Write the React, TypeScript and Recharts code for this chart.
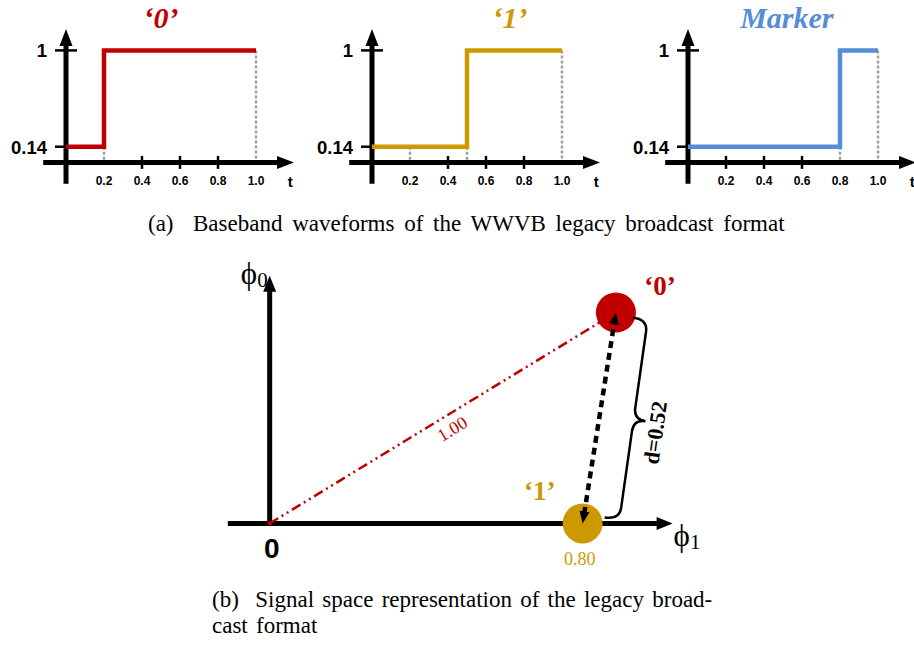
import React from 'react';
import {
  LineChart,
  Line,
  ScatterChart,
  Scatter,
  XAxis,
  YAxis,
  ReferenceLine,
  ReferenceDot,
} from 'recharts';

// waveform levels and switching times (t in seconds, normalised)
const levels = [0.14, 1, 1];
const zeroTimes = [0, 0.2, 1.0];
const oneTimes = [0, 0.5, 1.0];
const markerTimes = [0, 0.8, 1.0];
const timeTicks = [0.2, 0.4, 0.6, 0.8, 1.0];
const levelTicks = [0.14, 1];
const zeroGuides = [0.2, 1.0];
const oneGuides = [0.2, 0.5, 1.0];
const markerGuides = [0.8, 1.0];

// signal space
const symbolNames = ['‘0’', '‘1’'];
const phi1Values = [0.885, 0.8];
const phi0Values = [0.54, 0];
const energyLabel = '1.00';
const distanceLabel = 'd=0.52';
const oneCoordLabel = '0.80';

const RED = '#C00000';
const GOLD = '#CC9900';
const BLUE = '#558ED5';
const GREY = '#A0A0A0';
const SANS = "Arial, 'Liberation Sans', Helvetica, sans-serif";
const SERIF = "'Times New Roman', 'Liberation Serif', Times, serif";

const arrowShape =
  (color: string, width: number, head: number, headW: number, dash?: string, both = false) =>
  (p: any) => {
    const { x1, y1, x2, y2 } = p;
    const len = Math.hypot(x2 - x1, y2 - y1) || 1;
    const ux = (x2 - x1) / len;
    const uy = (y2 - y1) / len;
    const nx = -uy;
    const ny = ux;
    const tri = (tx: number, ty: number, dx: number, dy: number) =>
      `${tx},${ty} ${tx - dx * head + (nx * headW) / 2},${ty - dy * head + (ny * headW) / 2} ${
        tx - dx * head - (nx * headW) / 2
      },${ty - dy * head - (ny * headW) / 2}`;
    const sx = both ? x1 + ux * head * 0.8 : x1;
    const sy = both ? y1 + uy * head * 0.8 : y1;
    return (
      <g>
        <line
          x1={sx}
          y1={sy}
          x2={x2 - ux * head * 0.8}
          y2={y2 - uy * head * 0.8}
          stroke={color}
          strokeWidth={width}
          strokeDasharray={dash}
        />
        <polygon points={tri(x2, y2, ux, uy)} fill={color} />
        {both && <polygon points={tri(x1, y1, -ux, -uy)} fill={color} />}
      </g>
    );
  };

const textShape =
  (text: React.ReactNode, dx: number, dy: number, style: React.SVGProps<SVGTextElement>) =>
  (p: any) => (
    <text x={p.cx + dx} y={p.cy + dy} {...style}>
      {text}
    </text>
  );

const levelAt = (times: number[], g: number) => {
  let v = levels[0];
  times.forEach((t, i) => {
    if (t < g) v = levels[i];
  });
  return v;
};

type WaveProps = {
  left: number;
  times: number[];
  guides: number[];
  color: string;
  title: string;
  titleT: number;
};

const WavePanel: React.FC<WaveProps> = ({ left, times, guides, color, title, titleT }) => {
  const data = times.map((t, i) => ({ t, v: levels[i] }));
  return (
    <div style={{ position: 'absolute', left, top: 0 }}>
      <LineChart
        width={304}
        height={196}
        data={data}
        margin={{ top: 0, right: 0, bottom: 0, left: 0 }}
        style={{ overflow: 'visible' }}
      >
        <XAxis type="number" dataKey="t" domain={[-0.3, 1.3]} hide />
        <YAxis type="number" domain={[-0.3, 1.45]} hide />
        {guides.map((g) => (
          <ReferenceLine
            key={'g' + g}
            ifOverflow="visible"
            segment={[
              { x: g, y: levelAt(times, g) },
              { x: g, y: 0 },
            ]}
            stroke={GREY}
            strokeWidth={2.5}
            strokeDasharray="3 2"
          />
        ))}
        {timeTicks
          .filter((t) => !guides.includes(t))
          .map((t) => (
            <ReferenceLine
              key={'xt' + t}
              ifOverflow="visible"
              segment={[
                { x: t, y: -0.058 },
                { x: t, y: 0.058 },
              ]}
              stroke="#000"
              strokeWidth={2.5}
            />
          ))}
        {levelTicks.map((v) => (
          <ReferenceLine
            key={'yt' + v}
            ifOverflow="visible"
            segment={[
              { x: -0.058, y: v },
              { x: 0.058, y: v },
            ]}
            stroke="#000"
            strokeWidth={2.5}
          />
        ))}
        <ReferenceLine
          ifOverflow="visible"
          segment={[
            { x: -0.12, y: 0 },
            { x: 1.2, y: 0 },
          ]}
          shape={arrowShape('#000', 5, 17, 13)}
        />
        <ReferenceLine
          ifOverflow="visible"
          segment={[
            { x: 0, y: -0.19 },
            { x: 0, y: 1.19 },
          ]}
          shape={arrowShape('#000', 5, 17, 13)}
        />
        <Line
          type="stepAfter"
          dataKey="v"
          stroke={color}
          strokeWidth={4.5}
          dot={false}
          isAnimationActive={false}
        />
        {timeTicks.map((t) => (
          <ReferenceDot
            key={'xl' + t}
            x={t}
            y={0}
            ifOverflow="visible"
            shape={textShape(t.toFixed(1), 0, 23, {
              textAnchor: 'middle',
              fontFamily: SANS,
              fontWeight: 'bold',
              fontSize: 12,
              fill: '#000',
            })}
          />
        ))}
        {levelTicks.map((v) => (
          <ReferenceDot
            key={'yl' + v}
            x={0}
            y={v}
            ifOverflow="visible"
            shape={textShape(String(v), -19, 7, {
              textAnchor: 'end',
              fontFamily: SANS,
              fontWeight: 'bold',
              fontSize: 18.5,
              fill: '#000',
            })}
          />
        ))}
        <ReferenceDot
          x={1.18}
          y={0}
          ifOverflow="visible"
          shape={textShape('t', 0, 25, {
            textAnchor: 'middle',
            fontFamily: SANS,
            fontWeight: 'bold',
            fontSize: 15,
            fill: '#000',
          })}
        />
        <ReferenceDot
          x={titleT}
          y={1}
          ifOverflow="visible"
          shape={textShape(title, 0, -22, {
            textAnchor: 'middle',
            fontFamily: SERIF,
            fontWeight: 'bold',
            fontStyle: 'italic',
            fontSize: 30,
            fill: color,
          })}
        />
      </LineChart>
    </div>
  );
};

const energyShape = (p: any) => {
  const { x1, y1, x2, y2 } = p;
  const len = Math.hypot(x2 - x1, y2 - y1) || 1;
  const ux = (x2 - x1) / len;
  const uy = (y2 - y1) / len;
  const ang = (Math.atan2(uy, ux) * 180) / Math.PI;
  const cx = x1 + ux * len * 0.506 - uy * 14;
  const cy = y1 + uy * len * 0.506 + ux * 14;
  return (
    <g>
      <line x1={x1} y1={y1} x2={x2} y2={y2} stroke={RED} strokeWidth={2.5} strokeDasharray="10 4 2 4 2 4" />
      <circle cx={x1} cy={y1} r={2} fill={RED} />
      <text
        x={cx}
        y={cy}
        dy="0.35em"
        transform={`rotate(${ang} ${cx} ${cy})`}
        textAnchor="middle"
        fontFamily={SERIF}
        fontSize={18}
        fill={RED}
      >
        {energyLabel}
      </text>
    </g>
  );
};

const braceShape = (p: any) => {
  const s = { x: p.x1 + 17, y: p.y1 + 5 };
  const e = { x: p.x2 + 22, y: p.y2 - 6 };
  const L = Math.hypot(e.x - s.x, e.y - s.y) || 1;
  const ux = (e.x - s.x) / L;
  const uy = (e.y - s.y) / L;
  const nx = uy;
  const ny = -ux;
  const P = (u: number, v: number) => `${s.x + ux * u + nx * v},${s.y + uy * u + ny * v}`;
  const w = 15;
  const a = 12;
  const tip = 12;
  const d = [
    `M ${P(0, 0)}`,
    `Q ${P(0, w)} ${P(a, w)}`,
    `L ${P(L / 2 - a, w)}`,
    `Q ${P(L / 2, w)} ${P(L / 2, w + tip)}`,
    `Q ${P(L / 2, w)} ${P(L / 2 + a, w)}`,
    `L ${P(L - a, w)}`,
    `Q ${P(L, w)} ${P(L, 0)}`,
  ].join(' ');
  const tx = s.x + ux * (L / 2 + 10) + nx * 38;
  const ty = s.y + uy * (L / 2 + 10) + ny * 38;
  const ang = (Math.atan2(uy, ux) * 180) / Math.PI - 180;
  return (
    <g>
      <path d={d} fill="none" stroke="#000" strokeWidth={2.5} />
      <text
        x={tx}
        y={ty}
        dy="0.35em"
        transform={`rotate(${ang} ${tx} ${ty})`}
        textAnchor="middle"
        fontFamily={SERIF}
        fontWeight="bold"
        fontSize={22}
        fill="#000"
      >
        {distanceLabel}
      </text>
    </g>
  );
};

const phiLabel = (sub: string) => (
  <>
    <tspan fontSize={31}>ϕ</tspan>
    <tspan fontSize={21} dy={3}>
      {sub}
    </tspan>
  </>
);

const SignalSpace: React.FC = () => {
  const points = symbolNames.map((name, i) => ({ name, phi1: phi1Values[i], phi0: phi0Values[i] }));
  const [p0, p1] = points;
  const colors = [RED, GOLD];
  return (
    <div style={{ position: 'absolute', left: 211, top: 250 }}>
      <ScatterChart width={489} height={332} margin={{ top: 0, right: 0, bottom: 0, left: 0 }}>
        <XAxis type="number" dataKey="phi1" domain={[-0.15, 1.1]} hide />
        <YAxis type="number" dataKey="phi0" domain={[-0.15, 0.7]} hide />
        <ReferenceLine
          ifOverflow="visible"
          segment={[
            { x: -0.107, y: 0 },
            { x: 1.03, y: 0 },
          ]}
          shape={arrowShape('#000', 5, 16, 13)}
        />
        <ReferenceLine
          ifOverflow="visible"
          segment={[
            { x: 0, y: 0 },
            { x: 0, y: 0.634 },
          ]}
          shape={arrowShape('#000', 5, 16, 13)}
        />
        <ReferenceLine
          ifOverflow="visible"
          segment={[
            { x: 0, y: 0 },
            { x: p0.phi1, y: p0.phi0 },
          ]}
          shape={energyShape}
        />
        {points.map((pt, i) => (
          <Scatter
            key={pt.name}
            data={[pt]}
            fill={colors[i]}
            isAnimationActive={false}
            shape={(s: any) => <circle cx={s.cx} cy={s.cy} r={20} fill={colors[i]} />}
          />
        ))}
        <ReferenceLine
          ifOverflow="visible"
          zIndex={700}
          segment={[
            { x: p1.phi1, y: p1.phi0 },
            { x: p0.phi1, y: p0.phi0 },
          ]}
          shape={arrowShape('#000', 4.5, 12, 10, '7 5', true)}
        />
        <ReferenceLine
          ifOverflow="visible"
          zIndex={700}
          segment={[
            { x: p0.phi1, y: p0.phi0 },
            { x: p1.phi1, y: p1.phi0 },
          ]}
          shape={braceShape}
        />
        <ReferenceDot
          x={p0.phi1}
          y={p0.phi0}
          ifOverflow="visible"
          zIndex={700}
          shape={textShape(p0.name, 44, -17, {
            textAnchor: 'middle',
            fontFamily: SERIF,
            fontWeight: 'bold',
            fontSize: 27,
            fill: RED,
          })}
        />
        <ReferenceDot
          x={p1.phi1}
          y={p1.phi0}
          ifOverflow="visible"
          zIndex={700}
          shape={textShape(p1.name, -43, -23, {
            textAnchor: 'middle',
            fontFamily: SERIF,
            fontWeight: 'bold',
            fontSize: 27,
            fill: GOLD,
          })}
        />
        <ReferenceDot
          x={p1.phi1}
          y={p1.phi0}
          ifOverflow="visible"
          zIndex={700}
          shape={textShape(oneCoordLabel, -3, 42, {
            textAnchor: 'middle',
            fontFamily: SERIF,
            fontSize: 18,
            fill: GOLD,
          })}
        />
        <ReferenceDot
          x={0}
          y={0}
          ifOverflow="visible"
          shape={textShape('0', 2, 35, {
            textAnchor: 'middle',
            fontFamily: SANS,
            fontWeight: 'bold',
            fontSize: 28,
            fill: '#000',
          })}
        />
        <ReferenceDot
          x={0}
          y={0.634}
          ifOverflow="visible"
          shape={textShape(phiLabel('0'), -2, 8, {
            textAnchor: 'end',
            fontFamily: SERIF,
            fill: '#000',
          })}
        />
        <ReferenceDot
          x={1.03}
          y={0}
          ifOverflow="visible"
          shape={textShape(phiLabel('1'), 1, 23, {
            textAnchor: 'start',
            fontFamily: SERIF,
            fill: '#000',
          })}
        />
      </ScatterChart>
    </div>
  );
};

const captionStyle: React.CSSProperties = {
  fontFamily: SERIF,
  fontSize: 23,
  fill: '#000',
};

export default function App() {
  return (
    <div
      style={{
        position: 'absolute',
        left: 0,
        top: 0,
        width: 914,
        height: 647,
        overflow: 'hidden',
        background: '#fff',
      }}
    >
      <WavePanel left={9} times={zeroTimes} guides={zeroGuides} color={RED} title="‘0’" titleT={0.5} />
      <WavePanel left={315} times={oneTimes} guides={oneGuides} color={GOLD} title="‘1’" titleT={0.726} />
      <WavePanel left={631} times={markerTimes} guides={markerGuides} color={BLUE} title="Marker" titleT={0.52} />
      <SignalSpace />
      <svg width={914} height={647} style={{ position: 'absolute', left: 0, top: 0, pointerEvents: 'none' }}>
        <text x={148} y={231} style={{ ...captionStyle, wordSpacing: '4px' }} xmlSpace="preserve">
          (a)  Baseband waveforms of the WWVB legacy broadcast format
        </text>
        <text x={212} y={607} style={{ ...captionStyle, wordSpacing: '2.5px' }} xmlSpace="preserve">
          (b)  Signal space representation of the legacy broad-
        </text>
        <text x={212} y={633} style={{ ...captionStyle, wordSpacing: '2.5px' }}>
          cast format
        </text>
      </svg>
    </div>
  );
}
